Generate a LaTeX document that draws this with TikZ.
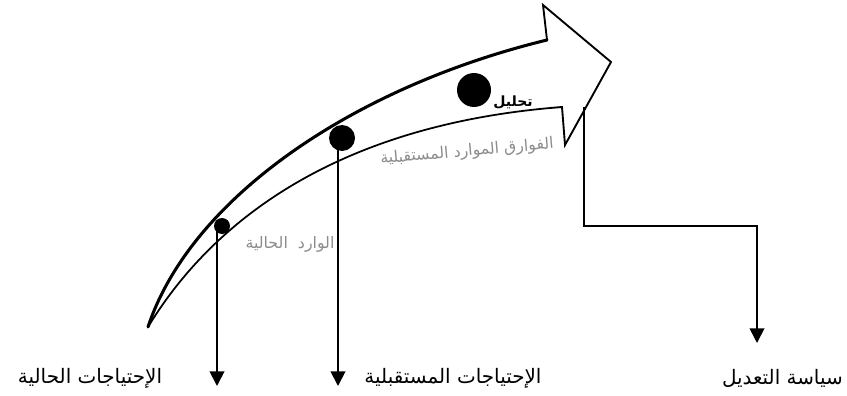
\documentclass[tikz,border=0pt]{standalone}
\usepackage{fontspec}
\usetikzlibrary{arrows.meta}
\TeXXeTstate=1
\newfontfamily\arabicfont[Script=Arabic]{DejaVu Sans}
\begin{document}
\begin{tikzpicture}[x=0.03cm,y=-0.03cm,
  conn/.style={line width=1.6pt,-{Triangle[width=12.5pt,length=12.5pt]}},
  lbl/.style={font=\arabicfont\fontsize{17}{19}\selectfont, inner sep=0},
  glbl/.style={font=\arabicfont\fontsize{13.5}{15}\selectfont, text=black!45, inner sep=0},
  dotn/.style={circle, fill=black, inner sep=0}]
\useasboundingbox (0,0) rectangle (847,396);
% big curved arrow
\coordinate (tail) at (148,327);
\coordinate (u) at (547,40);
\coordinate (l) at (550,108);
\draw[line width=2.6pt, line cap=round] (tail) .. controls (190,200) and (350,88) .. (u);
\draw[line width=1.6pt, line join=miter] (u) -- (543,5) -- (611,62) -- (565,145) -- (562,107) -- (l);
\draw[line width=1.5pt] (l) .. controls (330,128) and (210,225) .. (tail);
% dots
\node[dotn, minimum size=16*0.03cm] (d1) at (222,226) {};
\node[dotn, minimum size=26*0.03cm] (d2) at (342,138) {};
\node[dotn, minimum size=34*0.03cm] (d3) at (474,90) {};
% in-arrow labels
\node[font=\arabicfont\bfseries\fontsize{12}{14}\selectfont, inner sep=0] (tah) at (513,102) {\beginR تحليل\endR};
\node[glbl, rotate=5] (g2) at (467,152) {\beginR الفوارق الموارد المستقبلية\endR};
\node[glbl] (g1) at (290,244) {\beginR الوارد\ \ الحالية\endR};
% bottom labels
\node[lbl] (t1) at (90,378) {\beginR الإحتياجات الحالية\endR};
\node[lbl] (t2) at (453,378) {\beginR الإحتياجات المستقبلية\endR};
\node[lbl, anchor=east] (t3) at (843,378) {\beginR سياسة التعديل\endR};
% connectors
\coordinate (s1) at (217,230);
\coordinate (e1) at (217,386);
\coordinate (s2) at (338,140);
\coordinate (e2) at (338,386);
\coordinate (s3) at (584,107);
\coordinate (e3) at (757,343);
\draw[conn] (s1) -- (e1);
\draw[conn] (s2) -- (e2);
\draw[conn] (s3) -- ++(0,119) -| (e3);
\end{tikzpicture}
\end{document}
